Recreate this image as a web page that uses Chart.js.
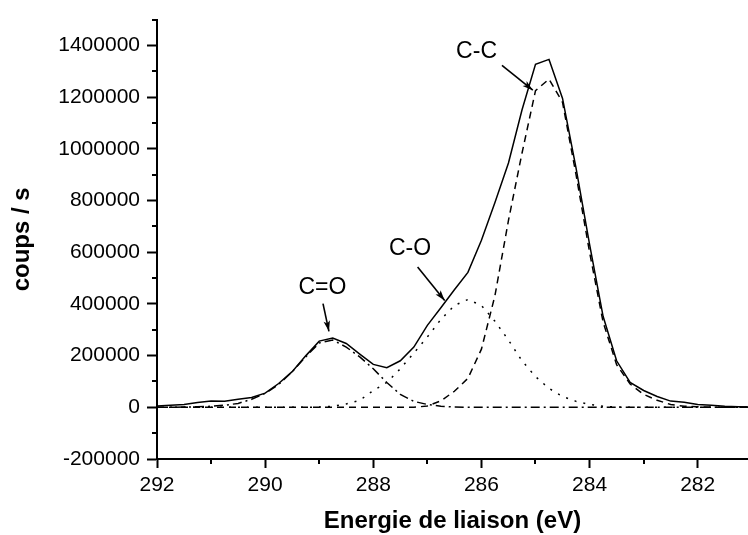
<!DOCTYPE html>
<html><head><meta charset="utf-8">
<script src="https://cdn.jsdelivr.net/npm/chart.js@4/dist/chart.umd.min.js"></script>
<style>html,body{margin:0;padding:0;background:#fff}canvas{display:block}</style>
</head><body>
<canvas id="c" width="748" height="535"></canvas>
<script>
// Binding energy (eV)
const energy = [292, 291.75, 291.5, 291.25, 291, 290.75, 290.5, 290.25, 290, 289.75, 289.5, 289.25, 289, 288.75, 288.5, 288.25, 288, 287.75, 287.5, 287.25, 287, 286.75, 286.5, 286.25, 286, 285.75, 285.5, 285.25, 285, 284.75, 284.5, 284.25, 284, 283.75, 283.5, 283.25, 283, 282.75, 282.5, 282.25, 282, 281.75, 281.5, 281.25, 281];
// Measured envelope (counts/s)
const envelope = [5000, 8000, 11000, 19000, 24000, 23000, 31000, 38000, 55000, 92000, 138000, 199000, 256000, 268000, 247000, 206000, 166000, 153000, 180000, 233000, 317000, 385000, 455000, 522000, 646000, 792000, 945000, 1150000, 1327000, 1346000, 1195000, 925000, 630000, 352000, 180000, 96000, 65000, 42000, 24000, 20000, 11000, 8000, 4000, 2000, 1000];
// C-C component (dashed)
const compCC = [0, 0, 0, 0, 0, 0, 0, 0, 0, 0, 0, 0, 0, 0, 0, 0, 0, 0, 0, 0, 5000, 25000, 62000, 112000, 225000, 432000, 723000, 983000, 1225000, 1270000, 1180000, 900000, 600000, 330000, 165000, 90000, 50000, 27000, 11000, 4000, 2000, 0, 0, 0, 0];
// C-O component (dotted)
const compCO = [0, 0, 0, 0, 0, 0, 0, 0, 0, 0, 0, 0, 1000, 4000, 13000, 27000, 65000, 96000, 149000, 210000, 272000, 340000, 394000, 417000, 394000, 333000, 260000, 180000, 119000, 73000, 42000, 23000, 11000, 4000, 1000, 0, 0, 0, 0, 0, 0, 0, 0, 0, 0];
// C=O component (dash-dot)
const compCdO = [0, 0, 1000, 2000, 4000, 8000, 15000, 31000, 54000, 88000, 138000, 195000, 249000, 260000, 233000, 195000, 149000, 96000, 50000, 23000, 11000, 4000, 1000, 0, 0, 0, 0, 0, 0, 0, 0, 0, 0, 0, 0, 0, 0, 0, 0, 0, 0, 0, 0, 0, 0];

const xMajorTicks = [292, 290, 288, 286, 284, 282];
const xMinorTicks = [291, 289, 287, 285, 283, 281];
const yMajorTicks = [-200000, 0, 200000, 400000, 600000, 800000, 1000000, 1200000, 1400000];
const yMinorTicks = [-100000, 100000, 300000, 500000, 700000, 900000, 1100000, 1300000, 1500000];

const peakLabels = ['C=O', 'C-O', 'C-C'];
const labelAt = [[288.94, 463000], [287.32, 612000], [286.09, 1376000]];
const arrowFrom = [[288.93, 401000], [287.18, 543000], [285.62, 1323000]];
const arrowTo = [[288.82, 294000], [286.68, 413000], [285.05, 1227000]];

const FONT = "'Liberation Sans', Arial, sans-serif";
const pts = arr => energy.map((e, i) => ({x: e, y: arr[i]}));

const extras = {
  id: 'extras',
  afterDraw(chart) {
    const {ctx, scales: {x, y}, chartArea} = chart;
    ctx.save();
    ctx.strokeStyle = '#000';
    ctx.lineWidth = 2;
    ctx.beginPath();
    xMinorTicks.forEach(v => {
      const px = Math.round(x.getPixelForValue(v));
      if (px < 0 || px > chart.width) return;
      ctx.moveTo(px, chartArea.bottom);
      ctx.lineTo(px, chartArea.bottom + 5);
    });
    yMinorTicks.forEach(v => {
      const py = Math.round(y.getPixelForValue(v));
      ctx.moveTo(chartArea.left, py);
      ctx.lineTo(chartArea.left - 5, py);
    });
    ctx.stroke();

    ctx.fillStyle = '#000';
    ctx.font = "23px " + FONT;
    ctx.textAlign = 'center';
    ctx.textBaseline = 'middle';
    peakLabels.forEach((t, i) => {
      ctx.fillText(t, x.getPixelForValue(labelAt[i][0]), y.getPixelForValue(labelAt[i][1]));
      const x1 = x.getPixelForValue(arrowFrom[i][0]), y1 = y.getPixelForValue(arrowFrom[i][1]);
      const x2 = x.getPixelForValue(arrowTo[i][0]), y2 = y.getPixelForValue(arrowTo[i][1]);
      const ang = Math.atan2(y2 - y1, x2 - x1);
      ctx.lineWidth = 1.6;
      ctx.beginPath();
      ctx.moveTo(x1, y1); ctx.lineTo(x2, y2);
      ctx.stroke();
      ctx.beginPath();
      ctx.moveTo(x2, y2);
      ctx.lineTo(x2 - 11 * Math.cos(ang - 0.3), y2 - 11 * Math.sin(ang - 0.3));
      ctx.lineTo(x2 - 8 * Math.cos(ang), y2 - 8 * Math.sin(ang));
      ctx.lineTo(x2 - 11 * Math.cos(ang + 0.3), y2 - 11 * Math.sin(ang + 0.3));
      ctx.closePath();
      ctx.fill();
    });
    ctx.restore();
  }
};

const ds = (data, dash) => ({
  data: pts(data), borderColor: '#000', borderWidth: 1.5, borderDash: dash,
  pointRadius: 0, tension: 0, fill: false
});

new Chart(document.getElementById('c'), {
  type: 'line',
  data: {datasets: [ds(envelope, []), ds(compCC, [7, 5]), ds(compCO, [2, 7]), ds(compCdO, [9, 4, 2, 4])]},
  options: {
    responsive: false, animation: false, devicePixelRatio: 1,
    layout: {padding: {top: 16, right: 0, left: 0, bottom: 0}},
    plugins: {legend: {display: false}, tooltip: {enabled: false}},
    scales: {
      x: {
        type: 'linear', reverse: true, min: 281.07, max: 292,
        afterBuildTicks: s => { s.ticks = xMajorTicks.map(v => ({value: v})); },
        afterFit: s => { s.height = 76; },
        ticks: {font: {family: FONT, size: 21}, color: '#000', padding: 5, maxRotation: 0, autoSkip: false},
        grid: {display: true, drawOnChartArea: false, drawTicks: true, tickLength: 9, tickWidth: 2, tickColor: '#000'},
        border: {display: true, color: '#000', width: 2},
        title: {display: true, text: 'Energie de liaison (eV)', color: '#000',
          font: {family: FONT, size: 24, weight: 'bold', lineHeight: 1.1}, padding: {top: 0, bottom: 0}}
      },
      y: {
        type: 'linear', min: -200000, max: 1500000,
        afterBuildTicks: s => { s.ticks = yMajorTicks.map(v => ({value: v})); },
        afterFit: s => { s.width = 157; },
        ticks: {font: {family: FONT, size: 21}, color: '#000', padding: 7, autoSkip: false, callback: v => String(v)},
        grid: {display: true, drawOnChartArea: false, drawTicks: true, tickLength: 10, tickWidth: 2, tickColor: '#000'},
        border: {display: true, color: '#000', width: 2},
        title: {display: true, text: 'coups / s', color: '#000',
          font: {family: FONT, size: 24, weight: 'bold', lineHeight: 1.1}, padding: {top: 9, bottom: 0}}
      }
    }
  },
  plugins: [extras]
});
</script>
</body></html>
